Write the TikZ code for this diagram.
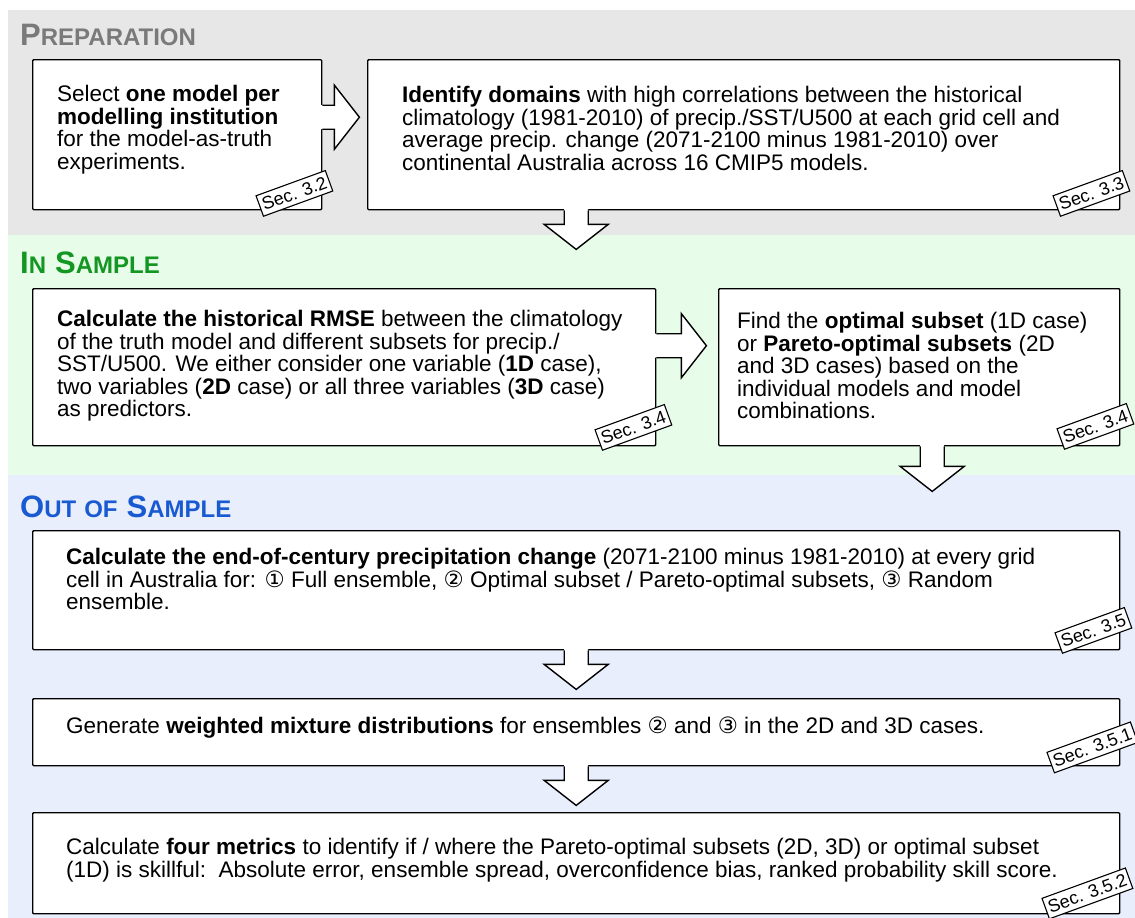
\documentclass[tikz,border=0pt]{standalone}
\usepackage{fontspec}
\setmainfont{Liberation Sans}
\newfontfamily\symfont{DejaVu Sans}
\usepackage{tikz}
\usetikzlibrary{calc}
\definecolor{PrepBg}{RGB}{231,231,231}
\definecolor{InBg}{RGB}{232,252,234}
\definecolor{OutBg}{RGB}{232,238,252}
\definecolor{PrepFg}{RGB}{122,122,122}
\definecolor{InFg}{RGB}{20,150,35}
\definecolor{OutFg}{RGB}{25,90,210}
\newcommand{\scbig}[1]{{\fontsize{31}{31}\selectfont #1}}
\newcommand{\scsml}[1]{{\fontsize{24}{24}\selectfont #1}}
\newcommand{\cnum}[1]{{\symfont #1}}
\tikzset{
  blk/.pic={
    \fill[white] (-2,-12) -- (#1,-12) -- (#1,-32) -- (#1+25,0) -- (#1,32) -- (#1,12) -- (-2,12) -- cycle;
    \draw[line width=1.4pt, line join=miter] (0,-12) -- (#1,-12) -- (#1,-32) -- (#1+25,0) -- (#1,32) -- (#1,12) -- (0,12);
  },
}

\begin{document}
\begin{tikzpicture}[
    x=1pt, y=-1pt,
    box/.style={draw, fill=white, line width=1.4pt, rounded corners=1pt, anchor=north west, inner sep=0pt},
    txt/.style={anchor=north west, align=left, inner sep=0pt, font=\fontsize{22.5}{22.5}\selectfont},
    hd/.style={anchor=base west, inner sep=0pt, font=\bfseries},
    sec/.style={draw, fill=white, line width=1.1pt, rotate=20, inner xsep=3pt, inner ysep=4.5pt, font=\fontsize{18}{18}\selectfont}
  ]
  \useasboundingbox (0,0) rectangle (1135,918);

  % Hintergrund der drei Phasen
  \fill[PrepBg] (8,10) rectangle (1135,235);
  \fill[InBg] (8,235) rectangle (1135,475);
  \fill[OutBg] (8,475) rectangle (1135,918);

  \node[hd, text=PrepFg] (h1) at (20,45) {\scbig{P}\scsml{REPARATION}};
  \node[hd, text=InFg] (h2) at (20,273) {\scbig{I}\scsml{N}\hspace{9pt}\scbig{S}\scsml{AMPLE}};
  \node[hd, text=OutFg] (h3) at (20,517) {\scbig{O}\scsml{UT}\hspace{8pt}\scsml{OF}\hspace{9pt}\scbig{S}\scsml{AMPLE}};

  % Kaesten
  \node[box, minimum width=289, minimum height=150] (b1) at (32,59) {};
  \node[box, minimum width=752, minimum height=150] (b2) at (367,59) {};
  \node[box, minimum width=623, minimum height=157] (b3) at (32,288) {};
  \node[box, minimum width=401, minimum height=157] (b4) at (718,288) {};
  \node[box, minimum width=1087, minimum height=119] (b5) at (32,530) {};
  \node[box, minimum width=1087, minimum height=67] (b6) at (32,698) {};
  \node[box, minimum width=1087, minimum height=101] (b7) at (32,812) {};

  \node[txt] (t1) at (57,85) {Select \textbf{one model per}\\
    \textbf{modelling institution}\\
    for the model-as-truth\\
    experiments.};
  \node[txt] (t2) at (402,86) {\textbf{Identify domains} with high correlations between the historical\\
    climatology (1981-2010) of precip./SST/U500 at each grid cell and\\
    average precip. change (2071-2100 minus 1981-2010) over\\
    continental Australia across 16 CMIP5 models.};
  \node[txt] (t3) at (57,310) {\textbf{Calculate the historical RMSE} between the climatology\\
    of the truth model and different subsets for precip./\\
    SST/U500. We either consider one variable (\textbf{1D} case),\\
    two variables (\textbf{2D} case) or all three variables (\textbf{3D} case)\\
    as predictors.};
  \node[txt] (t4) at (737,312) {Find the \textbf{optimal subset} (1D case)\\
    or \textbf{Pareto-optimal subsets} (2D\\
    and 3D cases) based on the\\
    individual models and model\\
    combinations.};
  \node[txt] (t5) at (66,548) {\textbf{Calculate the end-of-century precipitation change} (2071-2100 minus 1981-2010) at every grid\\
    cell in Australia for: \cnum{①} Full ensemble, \cnum{②} Optimal subset / Pareto-optimal subsets, \cnum{③} Random\\
    ensemble.};
  \node[txt] (t6) at (66,717) {Generate \textbf{weighted mixture distributions} for ensembles \cnum{②} and \cnum{③} in the 2D and 3D cases.};
  \node[txt] (t7) at (66,838) {Calculate \textbf{four metrics} to identify if / where the Pareto-optimal subsets (2D, 3D) or optimal subset\\
    (1D) is skillful:\ \ Absolute error, ensemble spread, overconfidence bias, ranked probability skill score.};

  % Blockpfeile
  \pic at ([yshift=17.5pt]b1.east) {blk=12};
  \pic at ([yshift=21.5pt]b3.east) {blk=25};
  \pic[rotate=-90] at (b5.south |- b2.south) {blk=14};
  \pic[rotate=-90] at ([xshift=13pt]b4.south) {blk=20};
  \pic[rotate=-90] at (b5.south) {blk=14};
  \pic[rotate=-90] at (b6.south) {blk=14};

  % Abschnittsverweise
  \node[sec] (s1) at ([shift={(-28,-17)}]b1.south east) {Sec. 3.2};
  \node[sec] (s2) at ([shift={(-29,-17)}]b2.south east) {Sec. 3.3};
  \node[sec] (s3) at ([shift={(-23,-19)}]b3.south east) {Sec. 3.4};
  \node[sec] (s4) at ([shift={(-25,-20)}]b4.south east) {Sec. 3.4};
  \node[sec] (s5) at ([shift={(-27,-20)}]b5.south east) {Sec. 3.5};
  \node[sec] (s6) at ([shift={(-28,-19)}]b6.south east) {Sec. 3.5.1};
  \node[sec] (s7) at ([shift={(-33,-21)}]b7.south east) {Sec. 3.5.2};

\end{tikzpicture}
\end{document}
